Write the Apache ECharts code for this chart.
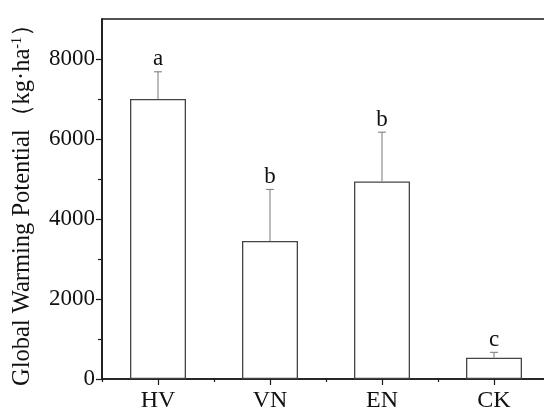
<!DOCTYPE html>
<html>
<head>
<meta charset="utf-8">
<script src="https://cdn.jsdelivr.net/npm/echarts@6/dist/echarts.min.js"></script>
<style>
html,body{margin:0;padding:0;background:#fff;}
#chart{width:544px;height:410px;}
</style>
</head>
<body>
<div id="chart"></div>
<script>
const categories = ['HV', 'VN', 'EN', 'CK'];
const gwp = [7000, 3450, 4940, 533];
const errTop = [7680, 4740, 6170, 667];
const letters = ['a', 'b', 'b', 'c'];
const yTickValues = [0, 2000, 4000, 6000, 8000];

const FONT = "'Liberation Serif','Times New Roman',serif";
const chart = echarts.init(document.getElementById('chart'), null, {renderer: 'canvas'});

const errData = categories.map((c, i) => [i, gwp[i], errTop[i]]);

chart.setOption({
  animation: false,
  backgroundColor: '#fff',
  grid: {
    left: 102, top: 19, width: 448, height: 360,
    containLabel: false,
    outerBoundsMode: 'none',
    show: true, borderColor: '#1a1a1a', borderWidth: 1.6, backgroundColor: 'transparent'
  },
  xAxis: [
    {
      type: 'category',
      data: categories,
      position: 'bottom',
      axisLine: {show: true, lineStyle: {color: '#1a1a1a', width: 1.6}},
      axisTick: {show: true, alignWithLabel: true, length: 6, lineStyle: {color: '#1a1a1a', width: 1.2}},
      axisLabel: {color: '#111', fontFamily: FONT, fontSize: 24, margin: 10},
      splitLine: {show: false}
    },
    {
      type: 'category',
      data: categories,
      position: 'bottom',
      axisLine: {show: false},
      axisTick: {show: true, length: 3, lineStyle: {color: '#1a1a1a', width: 1.2}},
      axisLabel: {show: false},
      splitLine: {show: false}
    }
  ],
  yAxis: {
    type: 'value',
    min: 0,
    max: 9000,
    interval: 2000,
    name: '{t|Global Warming Potential（kg·ha}{s|-1}{t|）}',
    nameLocation: 'middle',
    nameGap: 67,
    nameRotate: 90,
    nameTextStyle: {
      rich: {
        t: {fontFamily: FONT, fontSize: 24.5, color: '#111'},
        s: {fontFamily: FONT, fontSize: 14, color: '#111', verticalAlign: 'top', padding: [0, 0, 9, 0]}
      }
    },
    axisLine: {show: true, lineStyle: {color: '#1a1a1a', width: 1.6}},
    axisTick: {show: true, length: 6, customValues: yTickValues, lineStyle: {color: '#1a1a1a', width: 1.2}},
    minorTick: {show: true, splitNumber: 2, length: 4, lineStyle: {color: '#1a1a1a', width: 1.2}},
    axisLabel: {
      color: '#111', fontFamily: FONT, fontSize: 23, margin: 7, customValues: yTickValues,
      formatter: function (v) { return String(v); }
    },
    splitLine: {show: false}
  },
  series: [
    {
      type: 'bar',
      xAxisIndex: 0,
      data: gwp,
      barWidth: '50%',
      itemStyle: {color: '#fff', borderColor: '#444', borderWidth: 1.3}
    },
    {
      type: 'custom',
      xAxisIndex: 0,
      data: errData,
      z: 5,
      renderItem: function (params, api) {
        const base = api.coord([api.value(0), api.value(1)]);
        const top = api.coord([api.value(0), api.value(2)]);
        const x = base[0];
        return {
          type: 'group',
          children: [
            {type: 'line', shape: {x1: x, y1: base[1], x2: x, y2: top[1]}, style: {stroke: '#777', lineWidth: 1}},
            {type: 'line', shape: {x1: x - 4, y1: top[1], x2: x + 4, y2: top[1]}, style: {stroke: '#777', lineWidth: 1}},
            {type: 'text', x: x, y: top[1] - 1, style: {
              text: letters[params.dataIndex], fill: '#111', font: '23px ' + FONT,
              textAlign: 'center', textVerticalAlign: 'bottom'
            }}
          ]
        };
      }
    }
  ]
});
</script>
</body>
</html>
